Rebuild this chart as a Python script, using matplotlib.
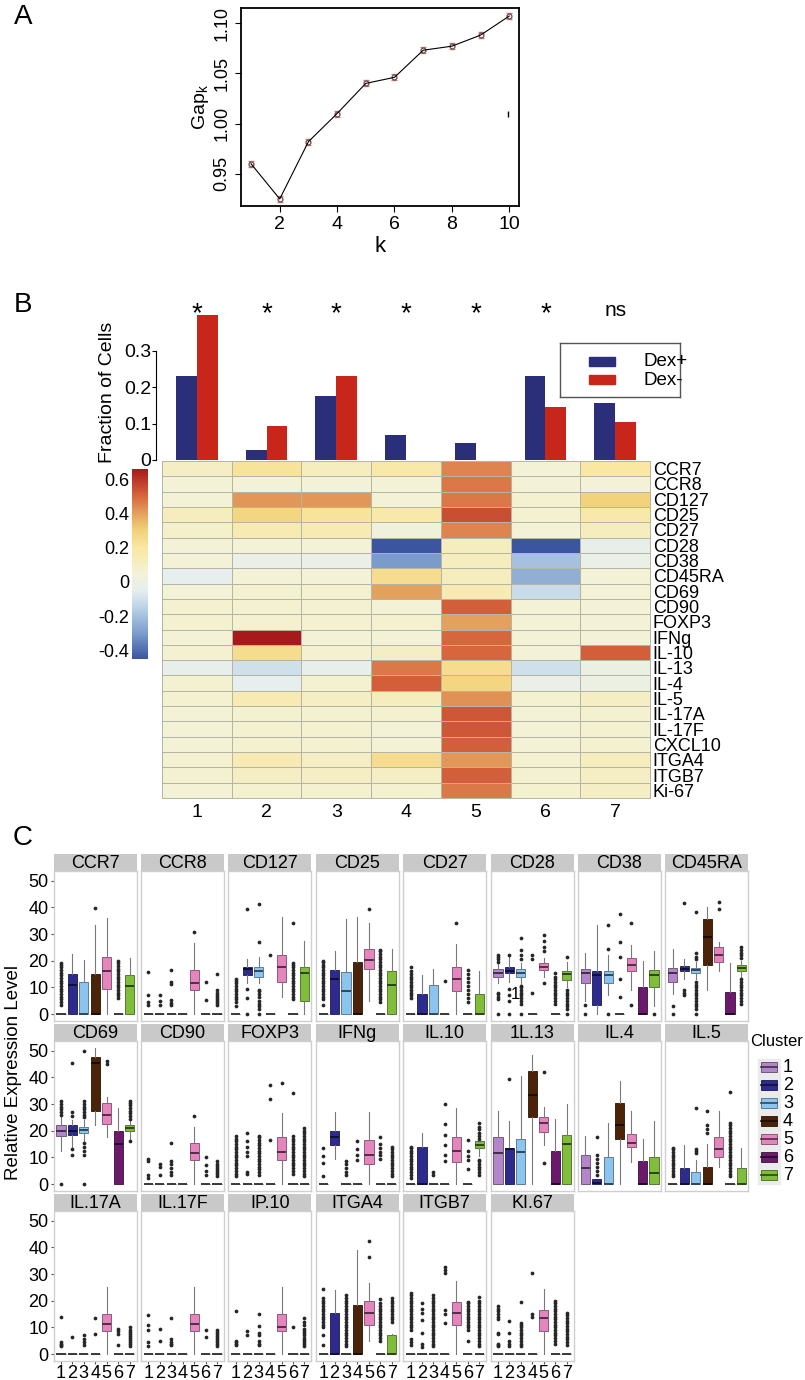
import numpy as np
import matplotlib
matplotlib.use('Agg')
import matplotlib.pyplot as plt
from matplotlib.colors import LinearSegmentedColormap, Normalize, to_rgb
from matplotlib.patches import Rectangle
import matplotlib.cm as cm

plt.rcParams['font.family'] = ['Liberation Sans', 'DejaVu Sans']

W, H = 805, 1380  # figure size in px (dpi 100)

# ---------------- panel A: gap statistic ----------------
k_vals = [1, 2, 3, 4, 5, 6, 7, 8, 9, 10]
gap_vals = [0.960, 0.925, 0.982, 1.010, 1.040, 1.046, 1.073, 1.077, 1.088, 1.107]
gap_err = [0.003, 0.003, 0.003, 0.003, 0.003, 0.003, 0.003, 0.003, 0.003, 0.003]

# ---------------- panel B: fractions + heatmap ----------------
clusters = ['1', '2', '3', '4', '5', '6', '7']
frac_dex_pos = [0.232, 0.028, 0.175, 0.069, 0.048, 0.232, 0.158]
frac_dex_neg = [0.400, 0.094, 0.232, 0.001, 0.001, 0.145, 0.105]
signif = ['*', '*', '*', '*', '*', '*', 'ns']

markers = ['CCR7', 'CCR8', 'CD127', 'CD25', 'CD27', 'CD28', 'CD38', 'CD45RA', 'CD69',
           'CD90', 'FOXP3', 'IFNg', 'IL-10', 'IL-13', 'IL-4', 'IL-5', 'IL-17A', 'IL-17F',
           'CXCL10', 'ITGA4', 'ITGB7', 'Ki-67']
#              c1     c2     c3     c4     c5    c6     c7
heat_vals = [[0.10, 0.22, 0.12, 0.18, 0.45, 0.05, 0.20],   # CCR7
             [0.05, 0.05, 0.05, 0.05, 0.47, 0.05, 0.05],   # CCR8
             [0.05, 0.42, 0.42, 0.05, 0.47, 0.07, 0.30],   # CD127
             [0.12, 0.28, 0.22, 0.18, 0.55, 0.07, 0.18],   # CD25
             [0.08, 0.15, 0.15, 0.03, 0.45, 0.05, 0.12],   # CD27
             [0.05, 0.05, 0.05, -0.45, 0.12, -0.45, -0.03],  # CD28
             [0.05, -0.02, -0.02, -0.30, 0.12, -0.20, -0.02],  # CD38
             [-0.05, 0.05, 0.05, 0.25, 0.12, -0.25, 0.05],  # CD45RA
             [0.05, 0.07, 0.07, 0.40, 0.15, -0.12, 0.05],   # CD69
             [0.07, 0.07, 0.07, 0.05, 0.52, 0.05, 0.05],    # CD90
             [0.07, 0.07, 0.07, 0.07, 0.40, 0.05, 0.05],    # FOXP3
             [0.05, 0.66, 0.05, 0.05, 0.50, 0.05, 0.05],    # IFNg
             [0.07, 0.25, 0.07, 0.10, 0.50, 0.05, 0.52],    # IL-10
             [-0.03, -0.10, -0.03, 0.47, 0.25, -0.10, -0.01],  # IL-13
             [0.07, -0.05, 0.07, 0.52, 0.28, -0.02, 0.00],  # IL-4
             [0.07, 0.15, 0.10, 0.12, 0.43, 0.07, 0.10],    # IL-5
             [0.05, 0.07, 0.07, 0.07, 0.53, 0.05, 0.07],    # IL-17A
             [0.05, 0.07, 0.07, 0.05, 0.53, 0.05, 0.07],    # IL-17F
             [0.05, 0.07, 0.07, 0.05, 0.52, 0.05, 0.07],    # CXCL10
             [0.07, 0.15, 0.10, 0.25, 0.42, 0.07, 0.12],    # ITGA4
             [0.07, 0.10, 0.10, 0.10, 0.52, 0.07, 0.10],    # ITGB7
             [0.05, 0.07, 0.07, 0.07, 0.47, 0.07, 0.10]]    # Ki-67
cbar_ticks = [0.6, 0.4, 0.2, 0, -0.2, -0.4]
cbar_labels = ['0.6', '0.4', '0.2', '0', '-0.2', '-0.4']

# ---------------- panel C: boxplots ----------------
# box = (whislo, q1, median, q3, whishi) per cluster 1..7
Z = (0, 0, 0, 0, 0)
CCR7_box = [Z, (0, 0, 11, 15, 22.5), (0, 0, 0, 12, 20.3), (0, 0, 0, 15.2, 33.5),
            (0, 9.5, 16, 21.5, 36), Z, (0, 0, 10.5, 14.5, 21)]
CCR7_out = [[3.5, 4.5, 5.5, 6.5, 7.5, 8.5, 9.5, 10.5, 11.5, 12.5, 13.5, 14.5, 15.5, 16.5, 17.5, 18.5, 19],
            [], [], [39.7], [],
            [6, 7, 8, 9, 10, 11, 12, 13, 14, 15, 16, 17, 18, 19, 20], []]
CCR8_box = [Z, Z, Z, Z, (0, 9.2, 11.5, 16.5, 26.5), Z, Z]
CCR8_out = [[3.4, 4.6, 7.1, 15.9], [3.4, 5, 7.1], [3.4, 4.2, 5.2, 11.2, 12.1, 16.5], [], [30.8],
            [5.2, 12], [3.5, 4.3, 5, 5.8, 6.5, 7.3, 8, 9, 15.2]]
CD127_box = [Z, (11.5, 14.8, 17, 17.5, 20.5), (11.5, 14, 16, 17.5, 21.5), Z,
             (6.5, 12, 17.8, 22, 36.5), Z, (0, 5, 15.5, 17.8, 27.5)]
CD127_out = [[3.2, 4.5, 5.5, 6.5, 7.5, 8.5, 9.5, 10.5, 11.5, 12.5, 13], [0, 6, 9.5, 39.3],
             [0, 2, 3, 4, 5, 6.5, 7.5, 8.5, 9, 27, 41.3], [22], [],
             [5.5, 6.5, 7.5, 8.5, 9.5, 10.5, 11.5, 12.5, 13.5, 14.5, 15.5, 16.5, 17.5, 18.5, 19, 34], []]
CD25_box = [Z, (0, 0, 13, 16.5, 23.5), (0, 0, 8.5, 15.8, 35.5), (0, 0, 0, 19.5, 36.5),
            (5, 16.8, 20.3, 24.3, 34), Z, (0, 0, 11, 16.3, 24.5)]
CD25_out = [[3.5, 5.5, 6.5, 7.5, 8.5, 9.5, 10.5, 11.5, 12.5, 13.5, 14.5, 15.5, 16.5, 17.5, 18.5, 19.5, 20],
            [], [], [], [39.5],
            [4.5, 5.5, 6.5, 7.5, 8.5, 9.5, 10.5, 11.5, 12.5, 13.5, 14.5, 15.5, 16.5, 17.5, 18.5, 19.5,
             20.5, 21.5, 22.5, 23.5, 24], []]
CD27_box = [Z, (0, 0, 0, 7.5, 14.5), (0, 0, 0, 11, 17), Z, (0, 8.5, 13, 17.5, 26.3), Z,
            (0, 0, 0, 7.5, 16.3)]
CD27_out = [[6, 7, 8, 9, 10, 11, 12, 13, 14, 15, 16, 17.5], [], [], [12.3], [34.3],
            [4.5, 6, 7.5, 9, 10.5, 12, 13.5, 15, 16.5], []]
CD28_box = [(11.5, 14, 15.5, 17, 19), (12, 15.5, 16.3, 17.5, 22), (11, 14, 15.5, 17, 19), Z,
            (14, 16.5, 17.8, 19.3, 21), Z, (10, 12.8, 15, 16.3, 19.5)]
CD28_out = [[0, 5.5, 6.5, 7.5, 8, 19.5, 20.5, 21.5, 22], [0, 4.8, 7.2, 9.6, 22.3],
            [0, 4, 5, 6, 7, 8, 9, 10, 10.5, 20.5, 22, 24, 28.5], [8.1, 20.5, 22],
            [11.8, 23.5, 25, 27.5, 29.5], [4, 5, 6, 7, 8, 9, 10, 11, 12, 13, 14, 15.5],
            [0, 2, 3, 4, 5, 6, 7, 8, 9, 21.5]]
CD38_box = [(5, 11.5, 15.3, 17, 23), (0, 3.5, 14.8, 16, 33.5), (7, 11.5, 14.8, 16, 22), Z,
            (9, 16, 18.5, 21, 25.8), (0, 0, 0, 10, 20), (3, 10, 14.5, 16.5, 23.5)]
CD38_out = [[0, 3.5], [], [0, 24.3, 33.5], [6.5, 13, 21.5, 27, 37.5], [3.5, 34], [], [0]]
CD45RA_box = [(7.5, 12, 15.5, 17.3, 24.5), (13, 16, 17, 18, 20.5), (13, 15.5, 16.5, 17.3, 19.5),
              (9, 18.5, 29, 35.5, 40), (16, 19.5, 22, 25.3, 27), (0, 0, 0, 8.3, 19),
              (14, 16.3, 17.3, 18.3, 20)]
CD45RA_out = [[0, 3], [7, 8, 9, 41.5],
              [0, 2, 3, 4, 5, 6, 7, 8, 9, 10, 11, 12, 20.5, 21.5, 23, 38.3], [], [39.5, 42], [],
              [4, 5, 6, 7, 8, 9, 10, 11, 12, 13, 21, 22, 23, 24, 25]]
CD69_box = [(12.5, 18, 20, 22, 25), (13.5, 18.5, 20, 22, 24), (16, 19, 20.3, 21.5, 24),
            (22, 27.5, 45.3, 47.5, 51), (17.5, 22.5, 26, 30.5, 32.5), (0, 0, 15, 20, 28.5),
            (17, 20, 21, 22, 24)]
CD69_out = [[0, 26, 27, 28, 29, 30, 31], [11, 13, 25.5, 27, 45.5],
            [0, 11, 12.5, 14, 15.5, 25, 26, 27, 28, 29, 30, 31, 50], [], [45, 46], [],
            [16, 24.5, 25.5, 26.5, 27.5, 28.5, 29.5, 30.5, 31]]
CD90_box = [Z, Z, Z, Z, (0, 9, 11.5, 15.3, 21.5), Z, Z]
CD90_out = [[2.5, 3.5, 8.5, 9.5], [3.5, 6.5, 7.5], [3.5, 4.5, 6, 7.5, 8.5, 15.5], [], [25.5],
            [3.5, 5, 7, 10], [3, 3.8, 4.5, 5.3, 6, 6.8, 7.5, 8.5]]
FOXP3_box = [Z, Z, Z, Z, (0, 9, 12, 17.8, 26.5), Z, Z]
FOXP3_out = [[3, 4, 5, 6, 7, 8, 9, 10, 11, 12, 13, 14, 15, 16, 17, 18],
             [4, 4.5, 10.5, 12, 14, 16, 19],
             [3.5, 4.5, 5.5, 6.5, 7.5, 8.5, 9.5, 10.5, 11.5, 12.5, 13.5, 14.5, 15.5, 16.5, 17.5, 18],
             [16.5, 32, 37], [38],
             [4, 5, 6, 7, 8, 9, 10, 11, 12, 13, 14, 15, 16, 17, 18, 34],
             [3, 4, 5, 6, 7, 8, 9, 10, 11, 12, 13, 14, 15, 16, 17, 18, 19, 20, 21]]
IFNg_box = [Z, (9.5, 14.8, 17.5, 20, 27), Z, Z, (0, 7.5, 11, 16.5, 27), Z, Z]
IFNg_out = [[3, 8, 10.5, 13.5], [], [3.5, 4.5, 6, 7.5, 8.5], [9, 11, 13, 16], [],
            [9.5, 11, 12, 13.5, 15, 17.8], [3, 4, 5, 6, 7, 8, 9, 10, 11, 12, 13, 14]]
IL10_box = [Z, (0, 0, 0, 14, 19), Z, Z, (0, 8.3, 12.4, 17.7, 28.5), Z, (10.5, 13.5, 14.8, 16, 20)]
IL10_out = [[2.5, 3.5, 4.5, 5.5, 6.5, 7.5, 8.5, 9.5, 10.5, 11.5, 12.5, 13.5, 14], [], [3.5, 4.5],
            [8.5, 11, 14.5, 18.5, 22.5, 30], [], [5.5, 9, 10.5, 12.5, 16.5],
            [3.5, 4.5, 5.5, 6.5, 7.5, 8.5, 9, 17, 18, 19, 20.5, 21.5, 23]]
IL13_box = [(0, 0, 11.5, 17.5, 27.5), (0, 0, 13.3, 13.7, 23.8), (0, 0, 12, 17, 40.5),
            (0, 25, 33.5, 42.5, 48.5), (14.5, 19.5, 23, 25, 29), (0, 0, 0, 12.5, 24.5),
            (0, 0, 15, 18.5, 30)]
IL13_out = [[], [39.5], [], [], [8, 42], [], []]
IL4_box = [(0, 0, 6, 11, 18), (0, 0, 0.3, 1.9, 1.9), (0, 0, 0, 10, 23), (0, 17, 22, 30.5, 38.5),
           (8.3, 14, 15.5, 18.8, 27.5), (0, 0, 0, 8.5, 17), (0, 0, 4.3, 10, 23.5)]
IL4_out = [[], [3.5, 5, 6.5, 8, 9.5, 11, 17.5], [], [], [], [], []]
IL5_box = [Z, (0, 0, 0, 6, 14.5), (0, 0, 0, 4.5, 9), (0, 0, 0, 6.5, 15), (6.5, 10, 13, 17.5, 27.5),
           Z, (0, 0, 0, 6, 13.5)]
IL5_out = [[3, 4, 5, 6, 7, 8, 9, 10, 11, 12, 13, 13.5], [], [11.5, 12.3, 13.2, 28.5],
           [19, 20.5, 22, 27.5], [],
           [3, 4, 5, 6, 7, 8, 9, 10, 11, 12, 13, 14, 15, 16, 17, 18, 19, 20, 21, 22, 23, 34.5], []]
IL17A_box = [Z, Z, Z, Z, (0, 8.5, 11.3, 15, 25), Z, Z]
IL17A_out = [[3, 3.5, 4, 4.5, 14], [6.5], [3.5, 4.5, 5.5, 7], [7.5, 13.5], [], [3.5, 7.5, 8.5, 9.5],
             [3, 3.8, 4.5, 5.3, 6, 6.8, 7.5, 8.3, 9, 10]]
IL17F_box = [Z, Z, Z, Z, (0, 8.5, 11.3, 15, 25), Z, Z]
IL17F_out = [[3, 4.5, 9, 11, 14.5], [5, 9.5], [3.5, 4, 4.5, 5.5, 13.5], [], [], [6.5, 9],
             [3, 3.8, 4.5, 5.3, 6, 6.8, 7.5, 8.3, 9]]
IP10_box = [Z, Z, Z, Z, (0, 8.5, 10, 15, 25), Z, Z]
IP10_out = [[3.5, 4, 4.5, 5, 16], [7, 8.5], [3.5, 4, 5, 7, 8, 10.5, 15], [], [], [10],
            [3, 3.8, 4.5, 5.3, 6, 7, 7.8, 8.5, 9.5, 11, 12, 13.5]]
ITGA4_box = [Z, (0, 0, 0, 15.5, 24), Z, (0, 0, 0, 18.5, 39), (5, 10.8, 15.5, 19.8, 26.5), Z,
             (0, 0, 0, 7, 7.5)]
ITGA4_out = [[3.5, 7, 10, 11, 12, 13, 14, 15, 16, 17, 18, 19, 20, 21, 24.5], [],
             [3, 4, 5, 6, 7, 8, 9, 10, 11, 12, 13, 14, 15, 16, 17, 18, 19, 20, 21, 22], [],
             [36.5, 42.5], [5, 6, 7, 8, 9, 10, 11, 12, 13, 14, 15, 16, 17, 18, 19, 20.5],
             [12, 13, 14, 15, 16, 17, 18, 19, 20, 21]]
ITGB7_box = [Z, Z, Z, Z, (0, 10.8, 15.5, 19.5, 27.3), Z, Z]
ITGB7_out = [[3.5, 4.5, 5.5, 9, 10, 11, 12, 13, 14, 15, 16, 17, 18, 19, 20, 21, 22, 23],
             [2.8, 3.8, 7.8, 12.8, 15.3, 17, 19],
             [3, 4, 5, 6, 7, 8, 9, 10, 11, 12, 13, 14, 15, 16, 17, 18, 19, 20, 21, 22],
             [11.5, 15, 16.5, 30.5, 31.5, 32.5], [],
             [5, 9, 10, 11, 12, 13, 14, 15, 16, 17, 18, 19, 19.5],
             [3, 4, 5, 6, 7, 8, 9, 10, 11, 12, 13, 14, 15, 16, 17, 18, 19, 20, 21.5]]
KI67_box = [Z, Z, Z, Z, (0, 8.5, 13.5, 16.5, 24.5), Z, Z]
KI67_out = [[3, 3.5, 4, 7.5, 8, 13, 14, 15, 16, 17, 18], [3, 4, 5, 8, 12.5],
            [3, 4, 5, 6, 7, 8, 9, 10, 11, 11.5, 19.5], [14, 15, 30.5], [],
            [4, 5, 6, 7, 8, 9, 10, 11, 12, 13, 14, 15, 16, 17, 18, 19, 20],
            [3.5, 4.5, 5.5, 6.5, 7.5, 8.5, 9.5, 10.5, 11.5, 12.5, 13.5, 14.5, 15.5]]

panels = [('CCR7', CCR7_box, CCR7_out), ('CCR8', CCR8_box, CCR8_out),
          ('CD127', CD127_box, CD127_out), ('CD25', CD25_box, CD25_out),
          ('CD27', CD27_box, CD27_out), ('CD28', CD28_box, CD28_out),
          ('CD38', CD38_box, CD38_out), ('CD45RA', CD45RA_box, CD45RA_out),
          ('CD69', CD69_box, CD69_out), ('CD90', CD90_box, CD90_out),
          ('FOXP3', FOXP3_box, FOXP3_out), ('IFNg', IFNg_box, IFNg_out),
          ('IL.10', IL10_box, IL10_out), ('1L.13', IL13_box, IL13_out),
          ('IL.4', IL4_box, IL4_out), ('IL.5', IL5_box, IL5_out),
          ('IL.17A', IL17A_box, IL17A_out), ('IL.17F', IL17F_box, IL17F_out),
          ('IP.10', IP10_box, IP10_out), ('ITGA4', ITGA4_box, ITGA4_out),
          ('ITGB7', ITGB7_box, ITGB7_out), ('KI.67', KI67_box, KI67_out)]

cluster_colors = ['#b385c9', '#2d2c8e', '#8cc4f0', '#4b2308', '#e585bd', '#6b1a6b', '#7fbd3b']
DEX_POS_COL = '#2b2f7a'
DEX_NEG_COL = '#c8261a'


def px_axes(fig, left, top, width, height):
    # axes placed in pixel coords (origin top left)
    return fig.add_axes([left / W, 1 - (top + height) / H, width / W, height / H])


def darker(c, f=0.5):
    r, g, b = to_rgb(c)
    return (r * f, g * f, b * f)


fig = plt.figure(figsize=(W / 100, H / 100), dpi=100)

# panel letters
for letter, y in [('A', 17), ('B', 305), ('C', 838)]:
    fig.text(23 / W, 1 - y / H, letter, fontsize=20, ha='center', va='center')

# ================= A =================
axA = px_axes(fig, 241, 8, 278, 198)
axA.errorbar(k_vals, gap_vals, yerr=gap_err, fmt='-', color='k', lw=0.8,
             ecolor='#c47f7f', elinewidth=0.8, capsize=2)
axA.plot(k_vals, gap_vals, 'o', mfc='white', mec='#6b4848', ms=3.5, mew=0.9)
axA.plot([9.95], [1.0095], marker='|', color='k', ms=4, mew=1)
axA.set_xlim(0.65, 10.34)
axA.set_ylim(0.918, 1.115)
axA.set_xticks([2, 4, 6, 8, 10])
axA.set_yticks([0.95, 1.00, 1.05, 1.10])
axA.set_yticklabels(['0.95', '1.00', '1.05', '1.10'], rotation=90, va='center')
axA.tick_params(labelsize=14, length=4, width=0.8)
axA.tick_params(axis='y', labelsize=13)
for s in axA.spines.values():
    s.set_linewidth(1.3)
axA.set_xlabel('k', fontsize=16, labelpad=2)
axA.set_ylabel('Gap$_\\mathregular{k}$', fontsize=14, labelpad=2)

# ================= B bars =================
axB = px_axes(fig, 162, 300, 488, 160)
x = np.arange(len(clusters)) + 0.5
axB.bar(x - 0.15, frac_dex_pos, width=0.3, color=DEX_POS_COL)
axB.bar(x + 0.15, frac_dex_neg, width=0.3, color=DEX_NEG_COL)
for xi, s in zip(x, signif):
    if s == '*':
        axB.text(xi, 0.40, s, ha='center', va='center', fontsize=20)
    else:
        axB.text(xi, 0.41, s, ha='center', va='center', fontsize=15)
axB.set_xlim(0, 7)
axB.set_ylim(0, 0.44)
for s in ['top', 'right', 'bottom']:
    axB.spines[s].set_visible(False)
axB.spines['left'].set_bounds(0, 0.3)
axB.spines['left'].set_position(('outward', 4))
axB.spines['left'].set_linewidth(0.8)
axB.set_xticks([])
axB.set_yticks([0, 0.1, 0.2, 0.3])
axB.set_yticklabels(['0', '0.1', '0.2', '0.3'])
axB.tick_params(axis='y', labelsize=14, length=3, pad=1)
axB.set_ylabel('Fraction of Cells', fontsize=14, labelpad=2)
axB.yaxis.set_label_coords(-0.095, 0.42)

# legend drawn by hand in a small pixel axes
axL = px_axes(fig, 560, 343, 120, 54)
axL.set_xlim(0, 120)
axL.set_ylim(54, 0)
axL.set_xticks([])
axL.set_yticks([])
for s in axL.spines.values():
    s.set_color('#555555')
    s.set_linewidth(1.0)
axL.add_patch(Rectangle((29, 14), 26, 9, color=DEX_POS_COL))
axL.add_patch(Rectangle((29, 32), 26, 9, color=DEX_NEG_COL))
axL.text(83, 19, 'Dex+', fontsize=13.5, va='center')
axL.text(83, 37, 'Dex-', fontsize=13.5, va='center')

# ================= B heatmap =================
cmap_vals = [-0.45, -0.30, -0.15, -0.05, 0.05, 0.20, 0.30, 0.40, 0.50, 0.66]
cmap_cols = ['#3b55a0', '#7b9dcc', '#bcd3e6', '#e6eeee', '#f3f2d6', '#f9e7a2',
             '#f2d27a', '#e4a25e', '#d8683e', '#a8191c']
vmin, vmax = cmap_vals[0], cmap_vals[-1]
cmap = LinearSegmentedColormap.from_list(
    'heat', [((v - vmin) / (vmax - vmin), c) for v, c in zip(cmap_vals, cmap_cols)])
norm = Normalize(vmin, vmax)

axH = px_axes(fig, 162, 461, 488, 337)
axH.pcolormesh(np.arange(8), np.arange(23), np.array(heat_vals), cmap=cmap, norm=norm,
               edgecolors='#b5b5a5', linewidth=0.7)
axH.set_xlim(0, 7)
axH.set_ylim(22, 0)
axH.yaxis.tick_right()
axH.set_yticks(np.arange(22) + 0.5)
axH.set_yticklabels(markers)
axH.set_xticks(np.arange(7) + 0.5)
axH.set_xticklabels(clusters)
axH.tick_params(axis='y', length=0, pad=2, labelsize=13)
axH.tick_params(axis='x', length=0, pad=4, labelsize=14)
for s in axH.spines.values():
    s.set_color('#b5b5a5')
    s.set_linewidth(0.7)

axC = px_axes(fig, 132, 469, 16, 190)
cb = fig.colorbar(cm.ScalarMappable(norm=norm, cmap=cmap), cax=axC)
cb.outline.set_visible(False)
cb.set_ticks(cbar_ticks)
cb.set_ticklabels(cbar_labels)
axC.yaxis.set_ticks_position('left')
axC.tick_params(length=0, labelsize=13, pad=2)

# ================= C boxplots =================
row_tops = [871, 1041, 1211]
for i, (name, box, out) in enumerate(panels):
    r, c = divmod(i, 8)
    left = 53.5 + 87.4 * c
    top = row_tops[r]
    ax = px_axes(fig, left, top, 83, 150)
    stats = []
    for b, o in zip(box, out):
        stats.append(dict(whislo=b[0], q1=b[1], med=b[2], q3=b[3], whishi=b[4], fliers=o))
    bp = ax.bxp(stats, positions=range(1, 8), widths=0.8, patch_artist=True, showcaps=False,
                whiskerprops=dict(color='#7a7a7a', lw=0.8),
                medianprops=dict(lw=1.4),
                flierprops=dict(marker='o', mfc='#262626', mec='none', ms=2.7))
    for j, patch in enumerate(bp['boxes']):
        patch.set_facecolor(cluster_colors[j])
        patch.set_linewidth(0.6)
        if box[j][1] == box[j][3]:
            # collapsed box -> just a dark dash at zero
            patch.set_edgecolor('#3a3a3a')
            bp['medians'][j].set_color('#3a3a3a')
        else:
            patch.set_edgecolor(darker(cluster_colors[j], 0.55))
            bp['medians'][j].set_color(darker(cluster_colors[j], 0.35))
    ax.set_xlim(0.35, 7.6)
    ax.set_ylim(-2.55, 53.6)
    for s in ax.spines.values():
        s.set_color('#cfcfcf')
        s.set_linewidth(1.0)
    ax.set_yticks([0, 10, 20, 30, 40, 50])
    if c == 0:
        ax.tick_params(axis='y', labelsize=13, length=2.5, color='#555555', pad=1)
    else:
        ax.tick_params(axis='y', left=False, labelleft=False)
    if r == 2:
        ax.set_xticks(range(1, 8))
        ax.set_xticklabels(clusters)
        ax.tick_params(axis='x', labelsize=13, length=2, color='#555555', pad=1)
    else:
        ax.set_xticks([])
    if name == 'CD28':
        ax.text(2.5, 7.5, '1', fontsize=12, ha='center', va='center')
    # strip
    st = px_axes(fig, left, top - 17, 83, 17)
    st.set_facecolor('#c9c9c9')
    st.set_xticks([])
    st.set_yticks([])
    for s in st.spines.values():
        s.set_visible(False)
    st.text(0.5, 0.42, name, fontsize=13, ha='center', va='center', transform=st.transAxes)

fig.text(14 / W, 1 - 1072 / H, 'Relative Expression Level', rotation=90, fontsize=13.5,
         ha='center', va='center')

# cluster legend
axK = px_axes(fig, 745, 1030, 60, 160)
axK.set_xlim(745, 805)
axK.set_ylim(1190, 1030)
axK.axis('off')
axK.text(750, 1042, 'Cluster', fontsize=12, va='center')
for j, col in enumerate(cluster_colors):
    yc = 1067 + 18 * j
    axK.add_patch(Rectangle((758, yc - 8.5), 22, 17, color='#ebebeb'))
    axK.add_patch(Rectangle((761, yc - 5), 16, 10, facecolor=col,
                            edgecolor=darker(col, 0.55), lw=0.6))
    axK.plot([761, 777], [yc, yc], color=darker(col, 0.35), lw=1.2)
    axK.text(783, yc, clusters[j], fontsize=13, va='center')

fig.savefig('out.png', dpi=100)
